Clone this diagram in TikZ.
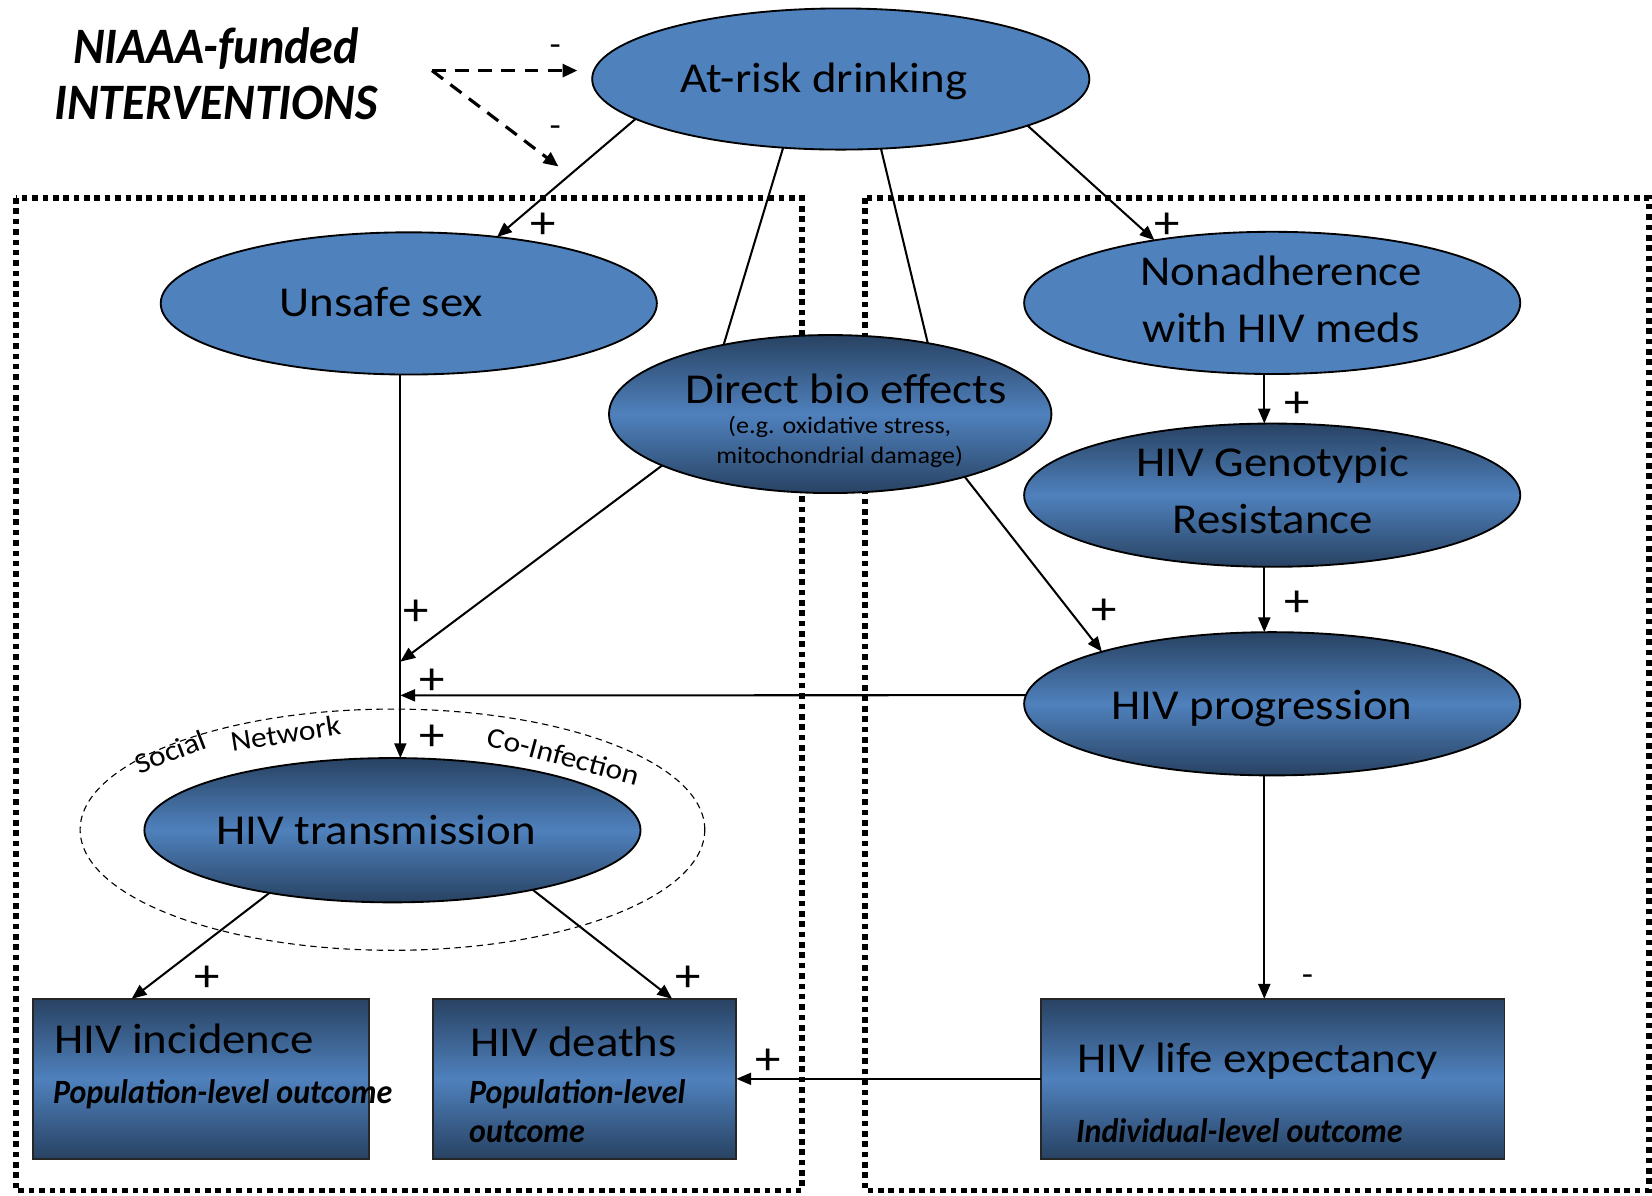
\documentclass[tikz,border=0pt]{standalone}
\usepackage{fontspec}
\setmainfont{Carlito}[FakeStretch=1.1]
\newfontfamily\outfont{Carlito}[FakeStretch=0.94]
\usetikzlibrary{shapes.geometric,arrows.meta}
\definecolor{bluefill}{HTML}{4F81BD}
\definecolor{bluedark}{RGB}{40,66,98}

\tikzset{
  flat/.style={ellipse, draw=black, line width=1pt, fill=bluefill, inner sep=0pt, outer sep=0pt},
  shaded/.style={ellipse, draw=black, line width=1pt, top color=bluedark, bottom color=bluedark,
    middle color=bluefill, inner sep=0pt, outer sep=0pt},
  outbox/.style={rectangle, draw=black!85, line width=1pt, top color=bluedark, bottom color=bluedark,
    middle color=bluefill, inner sep=0pt, outer sep=0pt, anchor=north west, minimum height=3.04cm},
  lbl/.style={inner sep=0pt, font=\fontsize{23}{27}\selectfont, text height=14.5pt, text depth=0pt},
  sublbl/.style={inner sep=0pt, font=\fontsize{12.8}{15}\selectfont, text height=8.1pt, text depth=0pt},
  olbl/.style={inner sep=0pt, anchor=west, font=\outfont\fontsize{18.4}{21}\bfseries\itshape, text height=11.6pt, text depth=0pt},
  ringlbl/.style={inner sep=0pt, font=\fontsize{15.5}{18}\selectfont, text height=9.8pt, text depth=0pt},
  sign/.style={inner sep=0pt, font=\fontsize{25}{28}\selectfont, text height=16pt, text depth=0pt},
  minus/.style={inner sep=0pt, font=\fontsize{18}{20}\selectfont, text height=9pt, text depth=0pt},
  title/.style={inner sep=0pt, font=\outfont\fontsize{27.6}{31}\bfseries\itshape, text height=17.4pt, text depth=0pt},
  dotbox/.style={line width=3pt, dash pattern=on 3pt off 2.6pt},
  ring/.style={ellipse, draw=black, line width=0.6pt, dash pattern=on 3.5pt off 2.5pt, inner sep=0pt,
    minimum width=11.86cm, minimum height=4.58cm},
  conn/.style={line width=1.1pt},
  arr/.style={line width=1.1pt, -{Triangle[length=8pt, width=6.5pt]}},
  dasharrow/.style={line width=1.7pt, dash pattern=on 7.5pt off 5pt, -{Triangle[length=8pt, width=7pt]}}
}

\begin{document}
\begin{tikzpicture}[x=0.02cm, y=-0.02cm]
\useasboundingbox (0,0) rectangle (1568,1135);

% dotted frames: population level (left) and individual level (right)
\draw[dotbox] (15,188) rectangle (761,1130);
\draw[dotbox] (821,188) rectangle (1565,1130);

% dashed ring around transmission
\node[ring] (ring) at (372.5,787.5) {};

% ellipses
\node[flat, minimum width=9.44cm, minimum height=2.68cm] (atrisk) at (798,75) {};
\node[flat, minimum width=9.42cm, minimum height=2.7cm] (unsafe) at (388,288) {};
\node[flat, minimum width=9.42cm, minimum height=2.7cm] (nonad) at (1207.5,287.5) {};
\node[shaded, minimum width=8.4cm, minimum height=3.0cm] (direct) at (788,393) {};
\node[shaded, minimum width=9.42cm, minimum height=2.72cm] (geno) at (1207.5,470) {};
\node[shaded, minimum width=9.42cm, minimum height=2.72cm] (prog) at (1207.5,668) {};
\node[shaded, minimum width=9.42cm, minimum height=2.74cm] (trans) at (372.5,788) {};

% outcome boxes
\node[outbox, minimum width=6.38cm] (inc) at (31,948) {};
\node[outbox, minimum width=5.76cm] (deaths) at (411,948) {};
\node[outbox, minimum width=8.8cm] (life) at (988,948) {};

% labels
\node[title] (t1) at (205,45) {NIAAA-funded};
\node[title] (t2) at (205,98) {INTERVENTIONS};
\node[lbl] (atrisk-t) at (782,75) {At-risk drinking};
\node[lbl] (unsafe-t) at (362,288) {Unsafe sex};
\node[lbl] (nonad-t1) at (1216,258) {Nonadherence};
\node[lbl] (nonad-t2) at (1216,312) {with HIV meds};
\node[lbl] (direct-t) at (803,370) {Direct bio effects};
\node[sublbl] (direct-s1) at (797,404) {(e.g. oxidative stress,};
\node[sublbl] (direct-s2) at (797,433) {mitochondrial damage)};
\node[lbl] (geno-t1) at (1208,440) {HIV Genotypic};
\node[lbl] (geno-t2) at (1208,494) {Resistance};
\node[lbl] (prog-t) at (1198,670) {HIV progression};
\node[lbl] (trans-t) at (357,789) {HIV transmission};
\node[ringlbl, rotate=21] (soc) at (162,714) {Social};
\node[ringlbl, rotate=9] (net) at (271,697) {Network};
\node[ringlbl, rotate=-15] (coinf) at (535,718) {Co-Infection};

\node[lbl, anchor=west] (inc-t) at (51,987) {HIV incidence};
\node[olbl] (inc-o) at (50,1037) {Population-level outcome};
\node[lbl, anchor=west] (deaths-t) at (446,990) {HIV deaths};
\node[olbl] (deaths-o1) at (445,1037) {Population-level};
\node[olbl] (deaths-o2) at (445,1074) {outcome};
\node[lbl, anchor=west] (life-t) at (1022,1005) {HIV life expectancy};
\node[olbl] (life-o) at (1021,1074) {Individual-level outcome};

% helper points
\coordinate (src) at (410,67);
\coordinate (tipA) at (548,67);
\coordinate (tipB) at (530,158);
\coordinate (jA) at (380,628);
\coordinate (jB) at (380,660);
\coordinate (colL) at (380,0);
\coordinate (colR) at (1200,0);

% intervention effects
\draw[dasharrow] (src) -- (tipA);
\draw[dasharrow] (src) -- (tipB);
\node[minus] (m1) at (527,45) {-};
\node[minus] (m2) at (527,122) {-};

% causal pathways
\draw[arr] (atrisk.191.5) -- (unsafe.37);
\draw[conn] (atrisk.230.9) -- (direct.147.3);
\draw[conn] (atrisk.-60.1) -- (direct.36.2);
\draw[arr] (atrisk.-14) -- (nonad.152.7);
\draw[arr] (nonad.south -| colR) -- (geno.north -| colR);
\draw[arr] (geno.south -| colR) -- (prog.north -| colR);
\draw[arr] (direct.-25.2) -- (prog.163);
\draw[arr] (direct.197.8) -- (jA);
\draw[arr] (unsafe.south -| colL) -- (trans.north -| colL);
\draw[arr] (prog.178) -- (jB);
\draw[arr] (trans.207.4) -- ([xshift=1.88cm]inc.north west);
\draw[arr] (trans.-23.4) -- ([xshift=4.54cm]deaths.north west);
\draw[arr] (prog.south -| colR) -- (life.north -| colR);
\draw[arr] (life.west) -- (deaths.east);

% signs
\node[sign] (p1) at (516,212) {+};
\node[sign] (p2) at (1108,212) {+};
\node[sign] (p3) at (1231,382) {+};
\node[sign] (p4) at (1231,571) {+};
\node[sign] (p5) at (1048,579) {+};
\node[sign] (p6) at (395,580) {+};
\node[sign] (p7) at (410,645) {+};
\node[sign] (p8) at (410,698) {+};
\node[sign] (p9) at (197,927) {+};
\node[sign] (p10) at (653,927) {+};
\node[sign] (p11) at (729,1006) {+};
\node[minus] (m3) at (1241,927) {-};
\end{tikzpicture}
\end{document}
